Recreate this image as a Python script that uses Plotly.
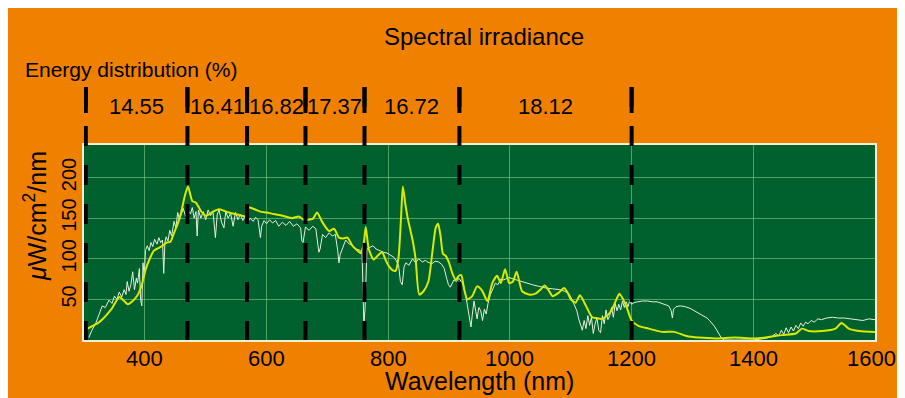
import plotly.graph_objects as go

# ---------------- data ----------------
boundaries = [303, 470, 568, 664, 761, 917, 1200]
energy_pct = ["14.55", "16.41", "16.82", "17.37", "16.72", "18.12"]

x_ticks = [400, 600, 800, 1000, 1200, 1400, 1600]
y_ticks = [50, 100, 150, 200]

# smooth (yellow) reference spectrum
ref_wl = [303, 325, 345, 358, 366, 372, 380, 388, 395, 401, 408, 415, 422, 429, 436, 442, 448, 454, 460, 464,
          467, 471, 475, 478, 484, 492, 500, 506, 512, 522, 530, 538, 548, 560, 566, 571, 580, 590, 600, 612,
          626, 642, 653, 661, 669, 676, 683, 691, 697, 703, 711, 719, 726, 733, 741, 748, 755, 760, 763, 768,
          776, 783, 790, 796, 801, 807, 812, 817, 821, 824, 828, 832, 840, 845, 851, 858, 866, 873, 878, 882,
          886, 890, 894, 900, 905, 911, 916, 920, 925, 930, 938, 946, 954, 963, 971, 979, 985, 992, 999, 1005,
          1011, 1020, 1031, 1042, 1050, 1057, 1063, 1070, 1080, 1089, 1095, 1100, 1108, 1115, 1125, 1135, 1142, 1151, 1160, 1168,
          1175, 1180, 1186, 1192, 1200, 1212, 1228, 1250, 1270, 1290, 1310, 1340, 1370, 1400, 1420, 1447, 1470, 1480, 1491, 1513,
          1535, 1545, 1557, 1574, 1600]
ref_val = [13, 22, 38, 53, 48, 44, 48, 55, 68, 86, 100, 110, 113, 116, 120, 121, 132, 143, 158, 172,
           181, 189, 178, 171, 169, 159, 153, 155, 158, 161, 159, 157, 155, 153, 152, 163, 161, 158, 157, 155,
           153, 150, 152, 148, 148, 149, 157, 146, 139, 134, 137, 126, 125, 126, 116, 111, 107, 120, 139, 112,
           99, 104, 108, 98, 91, 86, 85, 102, 150, 189, 168, 150, 123, 100, 56, 60, 72, 111, 138, 143,
           128, 106, 104, 95, 83, 74, 79, 80, 62, 50, 54, 66, 61, 48, 70, 79, 70, 87, 70, 72,
           84, 60, 56, 57, 62, 67, 62, 54, 58, 64, 58, 50, 46, 55, 42, 28, 27, 26, 30, 38,
           50, 57, 50, 40, 24, 17, 14, 10, 10, 5, 3, 2, 3, 2, 3, 6, 8, 14, 11, 11,
           14, 21, 14, 11, 10]

# measured (white) spectrum
meas_wl = [308, 313, 319, 324, 330, 335, 341, 346, 350, 354, 358, 362, 366, 369, 371, 374, 377, 380, 383, 386,
           388, 391, 393, 395, 397, 399, 401, 404, 407, 410, 413, 416, 420, 423, 426, 429, 431, 433, 435, 438,
           441, 444, 448, 451, 454, 457, 460, 463, 467, 471, 475, 478, 481, 484, 486, 488, 492, 496, 500, 504,
           508, 512, 516, 519, 522, 526, 530, 533, 537, 541, 545, 549, 553, 557, 561, 565, 569, 573, 578, 582,
           586, 589, 590, 592, 596, 600, 605, 610, 615, 620, 626, 632, 638, 644, 650, 656, 658, 660, 664, 670,
           676, 681, 686, 688, 692, 697, 703, 708, 713, 717, 719, 721, 725, 730, 736, 741, 746, 752, 757, 759,
           760, 762, 765, 770, 775, 780, 786, 792, 798, 804, 809, 813, 817, 820, 823, 826, 829, 834, 840, 845,
           850, 856, 861, 867, 872, 877, 883, 888, 892, 896, 899, 902, 905, 908, 912, 916, 920, 924, 928, 931,
           934, 936, 938, 941, 944, 946, 949, 952, 955, 958, 961, 964, 968, 972, 976, 980, 985, 990, 998, 1006,
           1015, 1025, 1037, 1048, 1059, 1070, 1081, 1090, 1097, 1102, 1106, 1110, 1113, 1116, 1119, 1122, 1125, 1128, 1131, 1134,
           1137, 1140, 1143, 1146, 1149, 1152, 1155, 1158, 1161, 1164, 1167, 1170, 1173, 1176, 1179, 1182, 1185, 1188, 1191, 1194,
           1197, 1200, 1204, 1210, 1218, 1226, 1234, 1242, 1250, 1256, 1261, 1265, 1267, 1269, 1273, 1280, 1288, 1296, 1303, 1309,
           1314, 1319, 1324, 1328, 1332, 1336, 1340, 1344, 1348, 1352, 1360, 1380, 1400, 1420, 1430, 1437, 1442, 1446, 1450, 1454,
           1458, 1462, 1466, 1470, 1474, 1478, 1482, 1486, 1490, 1495, 1500, 1506, 1512, 1520, 1530, 1540, 1550, 1560, 1570, 1580,
           1590, 1600]
meas_val = [3, 12, 20, 30, 42, 40, 49, 45, 54, 50, 59, 53, 62, 56, 72, 60, 68, 84, 62, 76,
            70, 88, 50, 42, 95, 78, 110, 116, 110, 120, 115, 124, 118, 126, 120, 123, 82, 120, 127, 122,
            135, 128, 146, 138, 157, 148, 155, 162, 152, 160, 155, 163, 150, 158, 128, 160, 150, 158, 148, 160,
            153, 158, 126, 155, 160, 145, 138, 158, 150, 156, 140, 157, 148, 155, 147, 153, 145, 150, 146, 151,
            148, 130, 126, 140, 147, 143, 148, 144, 147, 140, 145, 141, 146, 140, 143, 138, 122, 120, 139, 135,
            140, 137, 108, 112, 130, 126, 132, 128, 130, 110, 95, 105, 112, 123, 118, 117, 112, 111, 108, 60,
            18, 40, 112, 114, 116, 112, 110, 108, 107, 104, 102, 98, 92, 72, 68, 90, 95, 92, 100, 95,
            100, 96, 98, 95, 94, 97, 96, 93, 88, 76, 68, 65, 70, 74, 72, 76, 72, 66, 52, 38,
            22, 16, 30, 48, 35, 26, 40, 36, 24, 38, 32, 45, 56, 62, 70, 68, 75, 74, 77, 75,
            73, 70, 68, 66, 64, 63, 62, 60, 57, 50, 44, 36, 26, 20, 12, 24, 14, 30, 18, 28,
            8, 20, 27, 12, 9, 30, 20, 37, 25, 30, 40, 28, 45, 36, 44, 37, 48, 40, 47, 41,
            49, 44, 46, 47, 48, 48, 47, 47, 45, 44, 42, 36, 27, 38, 41, 42, 41, 39, 36, 33,
            31, 29, 27, 24, 21, 17, 12, 6, 2, 0, 0, 0, 0, 2, 4, 8, 5, 12, 7, 15,
            9, 16, 11, 18, 14, 21, 17, 22, 20, 24, 22, 26, 25, 27, 28, 27, 27, 26, 25, 24,
            26, 25]

# ---------------- style ----------------
OFF = 8                        # body margin of the page
W, H = 905 - OFF, 398 - OFF    # figure size


def fpx(p):
    # reference picture pixel -> figure pixel
    return p - OFF


ML = fpx(84)
MR = W - fpx(875)
MT = fpx(145)
MB = H - fpx(340)
PW, PH = W - ML - MR, H - MT - MB
ORANGE = "#F08000"
GREEN = "#00602E"
GRID = "rgba(140,215,140,0.55)"
BORDER = "#F4F0D4"
FONT = "Liberation Sans, Arial, sans-serif"


def px_x(p):
    return (fpx(p) - ML) / PW


def px_y(p):
    return (H - MB - fpx(p)) / PH


fig = go.Figure()
fig.add_trace(go.Scatter(x=meas_wl, y=meas_val, mode="lines",
                         line=dict(color="#E6EEDC", width=1), hoverinfo="skip"))
fig.add_trace(go.Scatter(x=ref_wl, y=ref_val, mode="lines",
                         line=dict(color="#D8EA00", width=2, shape="spline", smoothing=0.6),
                         hoverinfo="skip"))

shapes = []
for b in boundaries:
    shapes.append(dict(type="line", xref="x", yref="paper", x0=b, x1=b,
                       y0=px_y(87), y1=0, layer="above",
                       line=dict(color="black", width=4, dash="20px,19px")))
    shapes.append(dict(type="line", xref="x", yref="paper", x0=b, x1=b,
                       y0=px_y(87), y1=px_y(113), layer="above",
                       line=dict(color="black", width=4)))

annotations = [
    dict(text="Spectral irradiance", xref="paper", yref="paper", x=px_x(484), y=px_y(36),
         showarrow=False, font=dict(size=24, color="black", family=FONT), xanchor="center", yanchor="middle"),
    dict(text="Energy distribution (%)", xref="paper", yref="paper", x=px_x(23), y=px_y(69),
         showarrow=False, font=dict(size=21, color="black", family=FONT), xanchor="left", yanchor="middle"),
    dict(text="Wavelength (nm)", xref="paper", yref="paper", x=px_x(479), y=px_y(381),
         showarrow=False, font=dict(size=25, color="black", family=FONT), xanchor="center", yanchor="middle"),
    dict(text="<i>μ</i>W/cm<sup>2</sup>/nm", xref="paper", yref="paper", x=px_x(35), y=px_y(216),
         showarrow=False, textangle=-90, font=dict(size=25, color="black", family=FONT),
         xanchor="center", yanchor="middle"),
]
for i, lab in enumerate(energy_pct):
    mid = (boundaries[i] + boundaries[i + 1]) / 2
    annotations.append(dict(text=lab, xref="x", yref="paper", x=mid, y=px_y(106), showarrow=False,
                            font=dict(size=22, color="black", family=FONT),
                            xanchor="center", yanchor="middle"))
# x tick labels drawn as annotations on the x scale (last one nudged to stay inside the view)
for t in x_ticks:
    annotations.append(dict(text=str(t), xref="x", yref="paper", x=t, y=px_y(358), showarrow=False,
                            xshift=-4 if t == x_ticks[-1] else 0,
                            font=dict(size=22, color="black", family=FONT),
                            xanchor="center", yanchor="middle"))

fig.update_layout(
    width=W, height=H,
    margin=dict(l=ML, r=MR, t=MT, b=MB, pad=0),
    paper_bgcolor=ORANGE, plot_bgcolor=GREEN,
    showlegend=False,
    font=dict(family=FONT, color="black"),
    shapes=shapes, annotations=annotations,
    xaxis=dict(range=[300, 1600], tickvals=x_ticks, showticklabels=False,
               showgrid=True, gridcolor=GRID, gridwidth=1, zeroline=False,
               showline=True, linecolor=BORDER, linewidth=2, mirror=True, ticks=""),
    yaxis=dict(range=[0, 240], tickvals=y_ticks, ticktext=[str(v) for v in y_ticks],
               showgrid=True, gridcolor=GRID, gridwidth=1, zeroline=False,
               showline=True, linecolor=BORDER, linewidth=2, mirror=True,
               ticks="", tickangle=-90, tickfont=dict(size=20, color="black", family=FONT),
               ticklabelstandoff=-2),
)

fig.write_html("out.html")
